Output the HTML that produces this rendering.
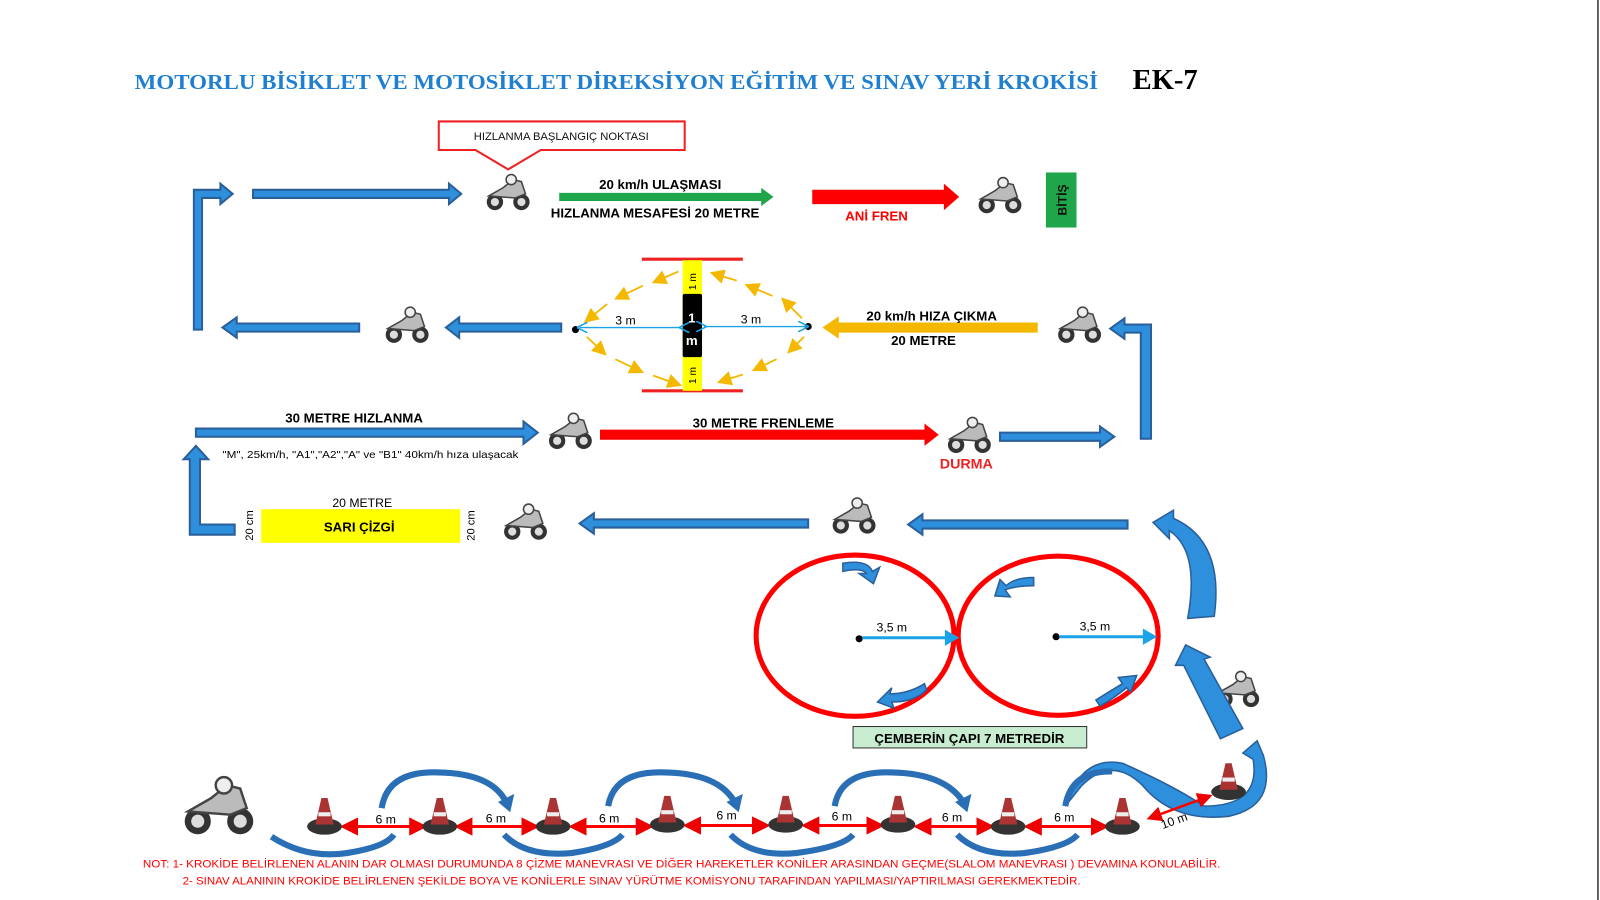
<!DOCTYPE html>
<html><head><meta charset="utf-8"><style>
html,body{margin:0;padding:0;background:#fff;width:1600px;height:900px;overflow:hidden}
svg{display:block}
text{font-family:"Liberation Sans",sans-serif}
text.serif{font-family:"Liberation Serif",serif}
</style></head><body>
<svg width="1600" height="900" viewBox="0 0 1600 900" xmlns="http://www.w3.org/2000/svg">
<defs>
<g id="moto">
 <circle cx="-12" cy="8" r="8" fill="#333"/><circle cx="-12" cy="8" r="4" fill="#ddd"/>
 <circle cx="14" cy="8" r="8" fill="#333"/><circle cx="14" cy="8" r="4" fill="#ddd"/>
 <path d="M-18 2 L-4 -6 L6 -14 L14 -12 L18 0 L8 4 Z" fill="#bbb" stroke="#444" stroke-width="1.5"/>
 <circle cx="4" cy="-14" r="5" fill="#eee" stroke="#444" stroke-width="1.5"/>
</g>
<g id="cone">
 <ellipse cx="0" cy="8" rx="17" ry="8" fill="#333"/>
 <path d="M-9 6 L-3 -20 L3 -20 L9 6 Z" fill="#a33"/>
 <rect x="-6" y="-6" width="12" height="4" fill="#eee"/>
</g>
<marker id="ab" markerWidth="8" markerHeight="8" refX="6" refY="4" orient="auto"><path d="M0 0 L8 4 L0 8" fill="none" stroke="#1aa3e8" stroke-width="1.2"/></marker>
<marker id="ao" markerWidth="8" markerHeight="8" refX="6" refY="4" orient="auto"><path d="M0 0 L8 4 L0 8 Z" fill="#f5b800"/></marker>
<marker id="ar" markerWidth="6" markerHeight="6" refX="5" refY="3" orient="auto"><path d="M0 0 L6 3 L0 6 Z" fill="#e00"/></marker>
<marker id="arb" markerWidth="6" markerHeight="6" refX="5" refY="3" orient="auto-start-reverse"><path d="M0 0 L6 3 L0 6 Z" fill="#e00"/></marker>
</defs>
<g transform="scale(1.0204)">
<text class="serif" x="132" y="87" font-weight="bold" font-size="21" fill="#1f7fd1" textLength="944" lengthAdjust="spacingAndGlyphs">MOTORLU BİSİKLET VE MOTOSİKLET DİREKSİYON EĞİTİM VE SINAV YERİ KROKİSİ</text>
<text class="serif" x="1110" y="87" font-weight="bold" font-size="28" fill="#000">EK-7</text>
<line x1="1566" y1="0" x2="1566" y2="900" stroke="#333" stroke-width="1.5"/>

<g fill="#2e8fdc" stroke="#2a5f9a" stroke-width="2">
 <path d="M248 186 H440 V180 L452 190 L440 200 V194 H248 Z"/>
 <path d="M190 323 V186 H216 V180 L228 190 L216 200 V194 H198 V323 Z"/>
 <path d="M352 317 H232 V311 L218 321 L232 331 V325 H352 Z"/>
 <path d="M550 317 H450 V311 L437 321 L450 331 V325 H550 Z"/>
 <path d="M1128 430 V318 H1102 V312 L1088 322 L1102 332 V326 H1118 V430 Z"/>
 <path d="M192 420 H513 V413 L527 424 L513 435 V428 H192 Z"/>
 <path d="M980 424 H1078 V418 L1092 428 L1078 438 V432 H980 Z"/>
 <path d="M230 524 H186 V450 H180 L192 437 L204 450 H196 V514 H230 Z"/>
 <path d="M1105 510 H904 V504 L890 514 L904 524 V518 H1105 Z"/>
 <path d="M792 509 H582 V503 L568 513 L582 523 V517 H792 Z"/>
</g>

<path d="M548 189 H746 V184 L758 193 L746 202 V197 H548 Z" fill="#1fa64a"/>
<path d="M796 186 H925 V180 L940 193 L925 206 V200 H796 Z" fill="#f00"/>
<path d="M1017 316 H822 V310 L806 321 L822 332 V326 H1017 Z" fill="#f5b800"/>
<path d="M588 421 H906 V415 L920 426 L906 437 V431 H588 Z" fill="#f00"/>

<path d="M430 119 H671 V147 H530 L498 166 L466 147 H430 Z" fill="#fff" stroke="#e22" stroke-width="2"/>
<text x="550" y="137" font-size="11" text-anchor="middle" fill="#111">HIZLANMA BAŞLANGIÇ NOKTASI</text>

<text x="647" y="185" font-size="13" font-weight="bold" text-anchor="middle">20 km/h ULAŞMASI</text>
<text x="642" y="213" font-size="13" font-weight="bold" text-anchor="middle">HIZLANMA MESAFESİ 20 METRE</text>
<text x="859" y="216" font-size="13" font-weight="bold" text-anchor="middle" fill="#f00">ANİ FREN</text>
<rect x="1025" y="169" width="30" height="54" fill="#1fa64a"/>
<text transform="translate(1045,196) rotate(-90)" font-size="12" font-weight="bold" text-anchor="middle" fill="#111">BİTİŞ</text>

<line x1="629" y1="254" x2="728" y2="254" stroke="#e22" stroke-width="3"/>
<line x1="629" y1="383" x2="728" y2="383" stroke="#e22" stroke-width="3"/>
<rect x="669" y="255" width="19" height="128" fill="#ff0"/>
<rect x="669" y="288" width="19" height="62" rx="2" fill="#000"/>
<text x="678" y="316" font-size="13" font-weight="bold" fill="#fff" text-anchor="middle">1</text>
<text x="678" y="338" font-size="13" font-weight="bold" fill="#fff" text-anchor="middle">m</text>
<text transform="translate(682,276) rotate(-90)" font-size="10" text-anchor="middle">1 m</text>
<text transform="translate(682,368) rotate(-90)" font-size="10" text-anchor="middle">1 m</text>
<circle cx="564" cy="323" r="3.5" fill="#000"/><circle cx="792" cy="320" r="3.5" fill="#000"/>
<line x1="668" y1="321" x2="568" y2="321" stroke="#1aa3e8" stroke-width="1.3" marker-end="url(#ab)" marker-start="url(#ab)"/>
<line x1="690" y1="320" x2="790" y2="320" stroke="#1aa3e8" stroke-width="1.3" marker-end="url(#ab)" marker-start="url(#ab)"/>
<text x="613" y="318" font-size="12" text-anchor="middle">3 m</text>
<text x="736" y="317" font-size="12" text-anchor="middle">3 m</text>
<g stroke="#f5b800" stroke-width="1.8" marker-end="url(#ao)">
 <line x1="665" y1="266" x2="642" y2="276"/><line x1="630" y1="280" x2="605" y2="292"/><line x1="595" y1="298" x2="575" y2="314"/>
 <line x1="575" y1="330" x2="592" y2="346"/><line x1="603" y1="352" x2="628" y2="364"/><line x1="640" y1="368" x2="665" y2="377"/>
 <line x1="722" y1="275" x2="699" y2="268"/><line x1="757" y1="290" x2="733" y2="280"/><line x1="786" y1="312" x2="768" y2="294"/>
 <line x1="788" y1="330" x2="774" y2="344"/><line x1="761" y1="352" x2="740" y2="362"/><line x1="728" y1="367" x2="706" y2="374"/>
</g>
<text x="913" y="314" font-size="13" font-weight="bold" text-anchor="middle">20 km/h HIZA ÇIKMA</text>
<text x="905" y="338" font-size="13" font-weight="bold" text-anchor="middle">20 METRE</text>

<text x="347" y="414" font-size="13" font-weight="bold" text-anchor="middle">30 METRE HIZLANMA</text>
<text x="218" y="449" font-size="9.5" textLength="290" lengthAdjust="spacingAndGlyphs">"M", 25km/h, "A1","A2","A" ve "B1" 40km/h hıza ulaşacak</text>
<text x="748" y="419" font-size="13" font-weight="bold" text-anchor="middle">30 METRE FRENLEME</text>
<text x="947" y="459" font-size="14" font-weight="bold" text-anchor="middle" fill="#e22">DURMA</text>

<text x="355" y="497" font-size="12" text-anchor="middle">20 METRE</text>
<rect x="256" y="499" width="195" height="33" fill="#ff0"/>
<text x="352" y="521" font-size="13" font-weight="bold" text-anchor="middle">SARI ÇİZGİ</text>
<text transform="translate(248,515) rotate(-90)" font-size="11" text-anchor="middle">20 cm</text>
<text transform="translate(465,515) rotate(-90)" font-size="11" text-anchor="middle">20 cm</text>

<use href="#moto" x="497" y="190"/><use href="#moto" x="979" y="193"/>
<use href="#moto" x="398" y="320"/><use href="#moto" x="1057" y="320"/>
<use href="#moto" x="558" y="424"/><use href="#moto" x="949" y="428"/>
<use href="#moto" x="514" y="513"/><use href="#moto" x="836" y="507"/>
<use href="#moto" x="1212" y="677"/>
<g transform="translate(213,792) scale(1.6)"><use href="#moto"/></g>

<ellipse cx="838" cy="623" rx="97" ry="79" fill="none" stroke="#f00" stroke-width="5"/>
<ellipse cx="1037" cy="623" rx="98" ry="78" fill="none" stroke="#f00" stroke-width="5"/>
<circle cx="842" cy="626" r="3.5" fill="#000"/><circle cx="1035" cy="624" r="3.5" fill="#000"/>
<line x1="845" y1="625" x2="930" y2="625" stroke="#1aa3e8" stroke-width="3"/><path d="M926 617 L940 625 L926 633 Z" fill="#1aa3e8"/>
<line x1="1038" y1="624" x2="1124" y2="624" stroke="#1aa3e8" stroke-width="3"/><path d="M1120 616 L1134 624 L1120 632 Z" fill="#1aa3e8"/>
<text x="874" y="619" font-size="12" text-anchor="middle">3,5 m</text>
<text x="1073" y="618" font-size="12" text-anchor="middle">3,5 m</text>
<g fill="#2e8fdc" stroke="#2a5f9a" stroke-width="1.5">
 <path d="M826 552 Q850 548 855 560 L862 556 L856 572 L842 562 L849 562 Q845 556 826 560 Z"/>
 <path d="M1013 566 Q994 566 986 574 L980 568 L975 584 L990 585 L985 578 Q996 574 1013 574 Z"/>
 <path d="M906 670 Q890 680 872 680 L874 674 L860 688 L876 694 L874 688 Q896 688 908 676 Z"/>
 <path d="M1074 686 Q1090 676 1100 670 L1096 664 L1114 662 L1108 678 L1104 674 Q1092 684 1078 692 Z"/>
 <path d="M1130 512 L1150 500 L1150 508 Q1200 530 1190 604 L1164 606 Q1176 540 1146 520 L1146 528 Z"/>
 <path d="M1162 632 L1152 652 L1160 652 L1196 724 L1218 714 L1180 646 L1186 644 Z"/>
 <path d="M1218 738 L1232 726 L1238 740 Q1252 790 1204 800 Q1150 806 1120 770 Q1090 740 1060 770 L1044 790 Q1060 740 1100 748 Q1150 770 1180 790 Q1236 790 1228 744 Z"/>
</g>
<rect x="836" y="712" width="229" height="21" fill="#c8ecd0" stroke="#333" stroke-width="1"/>
<text x="950" y="728" font-size="13" font-weight="bold" text-anchor="middle">ÇEMBERİN ÇAPI 7 METREDİR</text>

<g stroke="#f00" stroke-width="3">
 <line x1="336" y1="810" x2="416" y2="810" marker-start="url(#arb)" marker-end="url(#ar)"/>
 <line x1="448" y1="810" x2="526" y2="810" marker-start="url(#arb)" marker-end="url(#ar)"/>
 <line x1="560" y1="810" x2="638" y2="810" marker-start="url(#arb)" marker-end="url(#ar)"/>
 <line x1="672" y1="809" x2="752" y2="809" marker-start="url(#arb)" marker-end="url(#ar)"/>
 <line x1="788" y1="809" x2="864" y2="809" marker-start="url(#arb)" marker-end="url(#ar)"/>
 <line x1="898" y1="810" x2="972" y2="810" marker-start="url(#arb)" marker-end="url(#ar)"/>
 <line x1="1006" y1="810" x2="1084" y2="810" marker-start="url(#arb)" marker-end="url(#ar)"/>
 <line x1="1126" y1="802" x2="1186" y2="780" stroke-width="2.5" marker-start="url(#arb)" marker-end="url(#ar)"/>
</g>
<g font-size="12" text-anchor="middle">
 <text x="378" y="807">6 m</text><text x="486" y="806">6 m</text><text x="597" y="806">6 m</text>
 <text x="712" y="803">6 m</text><text x="825" y="804">6 m</text><text x="933" y="805">6 m</text><text x="1043" y="805">6 m</text>
 <text transform="translate(1152,808) rotate(-20)">10 m</text>
</g>
<g fill="none" stroke="#2a6fb5" stroke-width="6">
 <path d="M374 792 Q380 755 430 757 Q482 758 496 786"/>
 <path d="M596 790 Q602 755 652 757 Q704 758 720 786"/>
 <path d="M818 790 Q824 755 874 757 Q926 758 944 786"/>
 <path d="M1044 790 Q1050 755 1090 756"/>
 <path d="M266 820 Q300 842 340 836 Q378 830 386 818"/>
 <path d="M494 818 Q515 840 560 836 Q600 830 610 818"/>
 <path d="M716 818 Q737 840 780 836 Q826 830 836 818"/>
 <path d="M938 818 Q960 840 1004 836 Q1046 830 1056 818"/>
</g>
<g fill="#2a6fb5"><path d="M488 786 L504 778 L500 796 Z"/><path d="M712 786 L728 778 L724 796 Z"/><path d="M936 786 L952 778 L948 796 Z"/></g>
<use href="#cone" x="318" y="802"/><use href="#cone" x="431" y="802"/><use href="#cone" x="542" y="802"/><use href="#cone" x="654" y="800"/>
<use href="#cone" x="770" y="800"/><use href="#cone" x="880" y="800"/><use href="#cone" x="988" y="802"/><use href="#cone" x="1100" y="802"/>
<use href="#cone" x="1204" y="768"/>

<text x="140" y="850" font-size="11" fill="#f00" textLength="1056" lengthAdjust="spacingAndGlyphs">NOT:   1- KROKİDE BELİRLENEN ALANIN DAR OLMASI DURUMUNDA 8 ÇİZME MANEVRASI  VE DİĞER HAREKETLER KONİLER ARASINDAN GEÇME(SLALOM MANEVRASI ) DEVAMINA KONULABİLİR.</text>
<text x="179" y="867" font-size="11" fill="#f00" textLength="880" lengthAdjust="spacingAndGlyphs">2- SINAV ALANININ KROKİDE BELİRLENEN ŞEKİLDE BOYA VE KONİLERLE SINAV YÜRÜTME KOMİSYONU TARAFINDAN YAPILMASI/YAPTIRILMASI GEREKMEKTEDİR.</text>
</g>
</svg>
</body></html>
